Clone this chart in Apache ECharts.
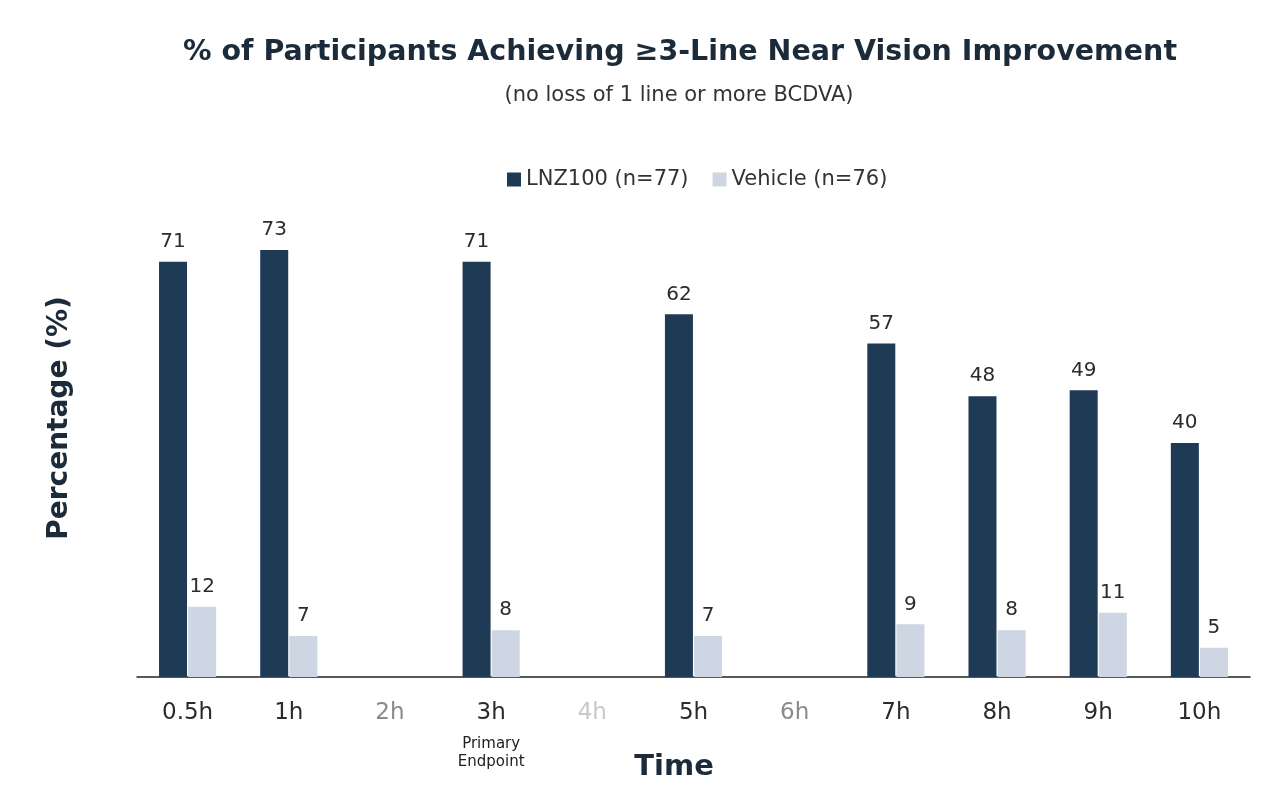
<!DOCTYPE html>
<html>
<head>
<meta charset="utf-8">
<script src="https://cdn.jsdelivr.net/npm/echarts@6/dist/echarts.min.js"></script>
<style>html,body{margin:0;padding:0;background:#fff;}#c{width:1280px;height:804px;}</style>
</head>
<body>
<div id="c"></div>
<script>
const categories = ['0.5h','1h','2h','3h','4h','5h','6h','7h','8h','9h','10h'];
const lnz100 = [71, 73, null, 71, null, 62, null, 57, 48, 49, 40];
const vehicle = [12, 7, null, 8, null, 7, null, 9, 8, 11, 5];
const seriesNames = ['LNZ100 (n=77)', 'Vehicle (n=76)'];
const labelStyleKey = {'2h':'g1','4h':'g2','6h':'g1'};
const noteCategory = '3h';

const FONT = 'DejaVu Sans';
const chart = echarts.init(document.getElementById('c'));
chart.setOption({
  backgroundColor: '#fff',
  textStyle: {fontFamily: FONT},
  title: [
    {text: '% of Participants Achieving ≥3-Line Near Vision Improvement', left: 675, textAlign: 'center', top: 33,
     textStyle: {fontFamily: FONT, fontSize: 28.5, fontWeight: 'bold', color: '#1c2b3a'}},
    {text: '(no loss of 1 line or more BCDVA)', left: 674, textAlign: 'center', top: 80,
     textStyle: {fontFamily: FONT, fontSize: 21, fontWeight: 'normal', color: '#333'}}
  ],
  legend: {
    top: 164, left: 502, itemWidth: 14, itemHeight: 14, itemGap: 24,
    icon: 'rect',
    textStyle: {fontFamily: FONT, fontSize: 21, color: '#333'},
    data: seriesNames
  },
  grid: {left: 137, right: 30, top: 209, bottom: 127},
  xAxis: {
    type: 'category', data: categories,
    axisLine: {lineStyle: {color: '#222', width: 1.5}},
    axisTick: {show: false},
    axisLabel: {
      margin: 14, interval: 0,
      formatter: function (v) {
        const k = labelStyleKey[v] || 'a';
        let s = '{' + k + '|' + v + '}';
        if (v === noteCategory) s += '\n{s|Primary}\n{s|Endpoint}';
        return s;
      },
      rich: {
        a: {fontFamily: FONT, fontSize: 23, color: '#2b2b2b', lineHeight: 44},
        g1: {fontFamily: FONT, fontSize: 23, color: '#8a8a8a', lineHeight: 44},
        g2: {fontFamily: FONT, fontSize: 23, color: '#c9c9c9', lineHeight: 44},
        s: {fontFamily: FONT, fontSize: 15, color: '#222', lineHeight: 18}
      }
    }
  },
  yAxis: {
    type: 'value', min: 0, max: 80,
    axisLine: {show: false}, axisTick: {show: false}, axisLabel: {show: false}, splitLine: {show: false}
  },
  graphic: [
    {type: 'text', x: 674, y: 767,
     style: {text: 'Time', fontFamily: FONT, fontSize: 29, fontWeight: 'bold', fill: '#1c2b3a', align: 'center', verticalAlign: 'middle'}},
    {type: 'text', x: 60, y: 418, rotation: Math.PI / 2,
     style: {text: 'Percentage (%)', fontFamily: FONT, fontSize: 28, fontWeight: 'bold', fill: '#1c2b3a', align: 'center', verticalAlign: 'middle'}}
  ],
  series: [
    {name: seriesNames[0], type: 'bar', data: lnz100, barWidth: 28, barGap: '4%',
     itemStyle: {color: '#1f3a55'},
     label: {show: true, position: 'top', distance: 10, fontFamily: FONT, fontSize: 20, color: '#2b2b2b'}},
    {name: seriesNames[1], type: 'bar', data: vehicle, barWidth: 28,
     itemStyle: {color: '#cdd6e2'},
     label: {show: true, position: 'top', distance: 10, fontFamily: FONT, fontSize: 20, color: '#2b2b2b'}}
  ]
});
</script>
</body>
</html>
